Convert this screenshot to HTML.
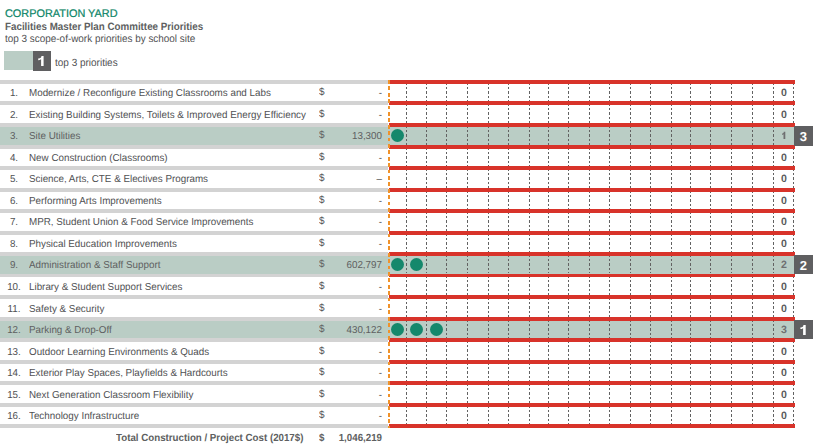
<!DOCTYPE html><html><head><meta charset="utf-8"><style>
html,body{margin:0;padding:0;background:#fff;width:815px;height:446px;overflow:hidden;position:relative}
body{font-family:"Liberation Sans",sans-serif;text-rendering:geometricPrecision}
.a{position:absolute}
.t{position:absolute;white-space:nowrap}
</style></head><body>
<div class="t" style="left:5.00px;top:6.94px;font-size:11px;line-height:14.3px;font-weight:400;color:#0b8567;transform:scaleX(0.99);transform-origin:0 0;-webkit-text-stroke:0.22px #0b8567">CORPORATION YARD</div>
<div class="t" style="left:4.60px;top:20.84px;font-size:10.6px;line-height:13.78px;font-weight:700;color:#5e5f61;transform:scaleX(0.925);transform-origin:0 0;">Facilities Master Plan Committee Priorities</div>
<div class="t" style="left:4.60px;top:32.64px;font-size:10.5px;line-height:13.65px;font-weight:400;color:#505153;transform:scaleX(0.945);transform-origin:0 0;">top 3 scope-of-work priorities by school site</div>
<div class="a" style="left:4.3px;top:51px;width:28.7px;height:18.8px;background:#bacdc5"></div>
<div class="a" style="left:33px;top:51px;width:18px;height:19.5px;background:#5f5f61"></div>
<div class="t" style="left:55.20px;top:56.64px;font-size:10.5px;line-height:13.65px;font-weight:400;color:#505153;transform:scaleX(0.95);transform-origin:0 0;">top 3 priorities</div>
<div class="a" style="left:0;top:126.6px;width:795px;height:18.40px;background:#bacdc5"></div>
<div class="a" style="left:0;top:256.0px;width:795px;height:17.50px;background:#bacdc5"></div>
<div class="a" style="left:0;top:320.6px;width:795px;height:17.40px;background:#bacdc5"></div>
<div class="a" style="left:405.90px;top:82.80px;width:1.2px;height:18.20px;background:repeating-linear-gradient(to bottom,#626262 0 2.2px,transparent 2.2px 4.2px)"></div>
<div class="a" style="left:426.10px;top:82.80px;width:1.2px;height:18.20px;background:repeating-linear-gradient(to bottom,#626262 0 2.2px,transparent 2.2px 4.2px)"></div>
<div class="a" style="left:446.20px;top:82.80px;width:1.2px;height:18.20px;background:repeating-linear-gradient(to bottom,#626262 0 2.2px,transparent 2.2px 4.2px)"></div>
<div class="a" style="left:467.10px;top:82.80px;width:1.2px;height:18.20px;background:repeating-linear-gradient(to bottom,#626262 0 2.2px,transparent 2.2px 4.2px)"></div>
<div class="a" style="left:487.90px;top:82.80px;width:1.2px;height:18.20px;background:repeating-linear-gradient(to bottom,#626262 0 2.2px,transparent 2.2px 4.2px)"></div>
<div class="a" style="left:508.05px;top:82.80px;width:1.2px;height:18.20px;background:repeating-linear-gradient(to bottom,#626262 0 2.2px,transparent 2.2px 4.2px)"></div>
<div class="a" style="left:528.50px;top:82.80px;width:1.2px;height:18.20px;background:repeating-linear-gradient(to bottom,#626262 0 2.2px,transparent 2.2px 4.2px)"></div>
<div class="a" style="left:547.90px;top:82.80px;width:1.2px;height:18.20px;background:repeating-linear-gradient(to bottom,#626262 0 2.2px,transparent 2.2px 4.2px)"></div>
<div class="a" style="left:568.20px;top:82.80px;width:1.2px;height:18.20px;background:repeating-linear-gradient(to bottom,#626262 0 2.2px,transparent 2.2px 4.2px)"></div>
<div class="a" style="left:588.50px;top:82.80px;width:1.2px;height:18.20px;background:repeating-linear-gradient(to bottom,#626262 0 2.2px,transparent 2.2px 4.2px)"></div>
<div class="a" style="left:609.30px;top:82.80px;width:1.2px;height:18.20px;background:repeating-linear-gradient(to bottom,#626262 0 2.2px,transparent 2.2px 4.2px)"></div>
<div class="a" style="left:630.00px;top:82.80px;width:1.2px;height:18.20px;background:repeating-linear-gradient(to bottom,#626262 0 2.2px,transparent 2.2px 4.2px)"></div>
<div class="a" style="left:650.25px;top:82.80px;width:1.2px;height:18.20px;background:repeating-linear-gradient(to bottom,#626262 0 2.2px,transparent 2.2px 4.2px)"></div>
<div class="a" style="left:670.70px;top:82.80px;width:1.2px;height:18.20px;background:repeating-linear-gradient(to bottom,#626262 0 2.2px,transparent 2.2px 4.2px)"></div>
<div class="a" style="left:689.50px;top:82.80px;width:1.2px;height:18.20px;background:repeating-linear-gradient(to bottom,#626262 0 2.2px,transparent 2.2px 4.2px)"></div>
<div class="a" style="left:709.90px;top:82.80px;width:1.2px;height:18.20px;background:repeating-linear-gradient(to bottom,#626262 0 2.2px,transparent 2.2px 4.2px)"></div>
<div class="a" style="left:730.80px;top:82.80px;width:1.2px;height:18.20px;background:repeating-linear-gradient(to bottom,#626262 0 2.2px,transparent 2.2px 4.2px)"></div>
<div class="a" style="left:751.90px;top:82.80px;width:1.2px;height:18.20px;background:repeating-linear-gradient(to bottom,#626262 0 2.2px,transparent 2.2px 4.2px)"></div>
<div class="a" style="left:772.50px;top:82.80px;width:1.2px;height:18.20px;background:repeating-linear-gradient(to bottom,#626262 0 2.2px,transparent 2.2px 4.2px)"></div>
<div class="a" style="left:793.20px;top:82.80px;width:1.2px;height:18.20px;background:repeating-linear-gradient(to bottom,#626262 0 2.2px,transparent 2.2px 4.2px)"></div>
<div class="a" style="left:405.90px;top:103.80px;width:1.2px;height:19.20px;background:repeating-linear-gradient(to bottom,#626262 0 2.2px,transparent 2.2px 4.2px)"></div>
<div class="a" style="left:426.10px;top:103.80px;width:1.2px;height:19.20px;background:repeating-linear-gradient(to bottom,#626262 0 2.2px,transparent 2.2px 4.2px)"></div>
<div class="a" style="left:446.20px;top:103.80px;width:1.2px;height:19.20px;background:repeating-linear-gradient(to bottom,#626262 0 2.2px,transparent 2.2px 4.2px)"></div>
<div class="a" style="left:467.10px;top:103.80px;width:1.2px;height:19.20px;background:repeating-linear-gradient(to bottom,#626262 0 2.2px,transparent 2.2px 4.2px)"></div>
<div class="a" style="left:487.90px;top:103.80px;width:1.2px;height:19.20px;background:repeating-linear-gradient(to bottom,#626262 0 2.2px,transparent 2.2px 4.2px)"></div>
<div class="a" style="left:508.05px;top:103.80px;width:1.2px;height:19.20px;background:repeating-linear-gradient(to bottom,#626262 0 2.2px,transparent 2.2px 4.2px)"></div>
<div class="a" style="left:528.50px;top:103.80px;width:1.2px;height:19.20px;background:repeating-linear-gradient(to bottom,#626262 0 2.2px,transparent 2.2px 4.2px)"></div>
<div class="a" style="left:547.90px;top:103.80px;width:1.2px;height:19.20px;background:repeating-linear-gradient(to bottom,#626262 0 2.2px,transparent 2.2px 4.2px)"></div>
<div class="a" style="left:568.20px;top:103.80px;width:1.2px;height:19.20px;background:repeating-linear-gradient(to bottom,#626262 0 2.2px,transparent 2.2px 4.2px)"></div>
<div class="a" style="left:588.50px;top:103.80px;width:1.2px;height:19.20px;background:repeating-linear-gradient(to bottom,#626262 0 2.2px,transparent 2.2px 4.2px)"></div>
<div class="a" style="left:609.30px;top:103.80px;width:1.2px;height:19.20px;background:repeating-linear-gradient(to bottom,#626262 0 2.2px,transparent 2.2px 4.2px)"></div>
<div class="a" style="left:630.00px;top:103.80px;width:1.2px;height:19.20px;background:repeating-linear-gradient(to bottom,#626262 0 2.2px,transparent 2.2px 4.2px)"></div>
<div class="a" style="left:650.25px;top:103.80px;width:1.2px;height:19.20px;background:repeating-linear-gradient(to bottom,#626262 0 2.2px,transparent 2.2px 4.2px)"></div>
<div class="a" style="left:670.70px;top:103.80px;width:1.2px;height:19.20px;background:repeating-linear-gradient(to bottom,#626262 0 2.2px,transparent 2.2px 4.2px)"></div>
<div class="a" style="left:689.50px;top:103.80px;width:1.2px;height:19.20px;background:repeating-linear-gradient(to bottom,#626262 0 2.2px,transparent 2.2px 4.2px)"></div>
<div class="a" style="left:709.90px;top:103.80px;width:1.2px;height:19.20px;background:repeating-linear-gradient(to bottom,#626262 0 2.2px,transparent 2.2px 4.2px)"></div>
<div class="a" style="left:730.80px;top:103.80px;width:1.2px;height:19.20px;background:repeating-linear-gradient(to bottom,#626262 0 2.2px,transparent 2.2px 4.2px)"></div>
<div class="a" style="left:751.90px;top:103.80px;width:1.2px;height:19.20px;background:repeating-linear-gradient(to bottom,#626262 0 2.2px,transparent 2.2px 4.2px)"></div>
<div class="a" style="left:772.50px;top:103.80px;width:1.2px;height:19.20px;background:repeating-linear-gradient(to bottom,#626262 0 2.2px,transparent 2.2px 4.2px)"></div>
<div class="a" style="left:793.20px;top:103.80px;width:1.2px;height:19.20px;background:repeating-linear-gradient(to bottom,#626262 0 2.2px,transparent 2.2px 4.2px)"></div>
<div class="a" style="left:405.90px;top:125.80px;width:1.2px;height:19.20px;background:repeating-linear-gradient(to bottom,#626262 0 2.2px,transparent 2.2px 4.2px)"></div>
<div class="a" style="left:426.10px;top:125.80px;width:1.2px;height:19.20px;background:repeating-linear-gradient(to bottom,#626262 0 2.2px,transparent 2.2px 4.2px)"></div>
<div class="a" style="left:446.20px;top:125.80px;width:1.2px;height:19.20px;background:repeating-linear-gradient(to bottom,#626262 0 2.2px,transparent 2.2px 4.2px)"></div>
<div class="a" style="left:467.10px;top:125.80px;width:1.2px;height:19.20px;background:repeating-linear-gradient(to bottom,#626262 0 2.2px,transparent 2.2px 4.2px)"></div>
<div class="a" style="left:487.90px;top:125.80px;width:1.2px;height:19.20px;background:repeating-linear-gradient(to bottom,#626262 0 2.2px,transparent 2.2px 4.2px)"></div>
<div class="a" style="left:508.05px;top:125.80px;width:1.2px;height:19.20px;background:repeating-linear-gradient(to bottom,#626262 0 2.2px,transparent 2.2px 4.2px)"></div>
<div class="a" style="left:528.50px;top:125.80px;width:1.2px;height:19.20px;background:repeating-linear-gradient(to bottom,#626262 0 2.2px,transparent 2.2px 4.2px)"></div>
<div class="a" style="left:547.90px;top:125.80px;width:1.2px;height:19.20px;background:repeating-linear-gradient(to bottom,#626262 0 2.2px,transparent 2.2px 4.2px)"></div>
<div class="a" style="left:568.20px;top:125.80px;width:1.2px;height:19.20px;background:repeating-linear-gradient(to bottom,#626262 0 2.2px,transparent 2.2px 4.2px)"></div>
<div class="a" style="left:588.50px;top:125.80px;width:1.2px;height:19.20px;background:repeating-linear-gradient(to bottom,#626262 0 2.2px,transparent 2.2px 4.2px)"></div>
<div class="a" style="left:609.30px;top:125.80px;width:1.2px;height:19.20px;background:repeating-linear-gradient(to bottom,#626262 0 2.2px,transparent 2.2px 4.2px)"></div>
<div class="a" style="left:630.00px;top:125.80px;width:1.2px;height:19.20px;background:repeating-linear-gradient(to bottom,#626262 0 2.2px,transparent 2.2px 4.2px)"></div>
<div class="a" style="left:650.25px;top:125.80px;width:1.2px;height:19.20px;background:repeating-linear-gradient(to bottom,#626262 0 2.2px,transparent 2.2px 4.2px)"></div>
<div class="a" style="left:670.70px;top:125.80px;width:1.2px;height:19.20px;background:repeating-linear-gradient(to bottom,#626262 0 2.2px,transparent 2.2px 4.2px)"></div>
<div class="a" style="left:689.50px;top:125.80px;width:1.2px;height:19.20px;background:repeating-linear-gradient(to bottom,#626262 0 2.2px,transparent 2.2px 4.2px)"></div>
<div class="a" style="left:709.90px;top:125.80px;width:1.2px;height:19.20px;background:repeating-linear-gradient(to bottom,#626262 0 2.2px,transparent 2.2px 4.2px)"></div>
<div class="a" style="left:730.80px;top:125.80px;width:1.2px;height:19.20px;background:repeating-linear-gradient(to bottom,#626262 0 2.2px,transparent 2.2px 4.2px)"></div>
<div class="a" style="left:751.90px;top:125.80px;width:1.2px;height:19.20px;background:repeating-linear-gradient(to bottom,#626262 0 2.2px,transparent 2.2px 4.2px)"></div>
<div class="a" style="left:772.50px;top:125.80px;width:1.2px;height:19.20px;background:repeating-linear-gradient(to bottom,#626262 0 2.2px,transparent 2.2px 4.2px)"></div>
<div class="a" style="left:405.90px;top:147.80px;width:1.2px;height:18.20px;background:repeating-linear-gradient(to bottom,#626262 0 2.2px,transparent 2.2px 4.2px)"></div>
<div class="a" style="left:426.10px;top:147.80px;width:1.2px;height:18.20px;background:repeating-linear-gradient(to bottom,#626262 0 2.2px,transparent 2.2px 4.2px)"></div>
<div class="a" style="left:446.20px;top:147.80px;width:1.2px;height:18.20px;background:repeating-linear-gradient(to bottom,#626262 0 2.2px,transparent 2.2px 4.2px)"></div>
<div class="a" style="left:467.10px;top:147.80px;width:1.2px;height:18.20px;background:repeating-linear-gradient(to bottom,#626262 0 2.2px,transparent 2.2px 4.2px)"></div>
<div class="a" style="left:487.90px;top:147.80px;width:1.2px;height:18.20px;background:repeating-linear-gradient(to bottom,#626262 0 2.2px,transparent 2.2px 4.2px)"></div>
<div class="a" style="left:508.05px;top:147.80px;width:1.2px;height:18.20px;background:repeating-linear-gradient(to bottom,#626262 0 2.2px,transparent 2.2px 4.2px)"></div>
<div class="a" style="left:528.50px;top:147.80px;width:1.2px;height:18.20px;background:repeating-linear-gradient(to bottom,#626262 0 2.2px,transparent 2.2px 4.2px)"></div>
<div class="a" style="left:547.90px;top:147.80px;width:1.2px;height:18.20px;background:repeating-linear-gradient(to bottom,#626262 0 2.2px,transparent 2.2px 4.2px)"></div>
<div class="a" style="left:568.20px;top:147.80px;width:1.2px;height:18.20px;background:repeating-linear-gradient(to bottom,#626262 0 2.2px,transparent 2.2px 4.2px)"></div>
<div class="a" style="left:588.50px;top:147.80px;width:1.2px;height:18.20px;background:repeating-linear-gradient(to bottom,#626262 0 2.2px,transparent 2.2px 4.2px)"></div>
<div class="a" style="left:609.30px;top:147.80px;width:1.2px;height:18.20px;background:repeating-linear-gradient(to bottom,#626262 0 2.2px,transparent 2.2px 4.2px)"></div>
<div class="a" style="left:630.00px;top:147.80px;width:1.2px;height:18.20px;background:repeating-linear-gradient(to bottom,#626262 0 2.2px,transparent 2.2px 4.2px)"></div>
<div class="a" style="left:650.25px;top:147.80px;width:1.2px;height:18.20px;background:repeating-linear-gradient(to bottom,#626262 0 2.2px,transparent 2.2px 4.2px)"></div>
<div class="a" style="left:670.70px;top:147.80px;width:1.2px;height:18.20px;background:repeating-linear-gradient(to bottom,#626262 0 2.2px,transparent 2.2px 4.2px)"></div>
<div class="a" style="left:689.50px;top:147.80px;width:1.2px;height:18.20px;background:repeating-linear-gradient(to bottom,#626262 0 2.2px,transparent 2.2px 4.2px)"></div>
<div class="a" style="left:709.90px;top:147.80px;width:1.2px;height:18.20px;background:repeating-linear-gradient(to bottom,#626262 0 2.2px,transparent 2.2px 4.2px)"></div>
<div class="a" style="left:730.80px;top:147.80px;width:1.2px;height:18.20px;background:repeating-linear-gradient(to bottom,#626262 0 2.2px,transparent 2.2px 4.2px)"></div>
<div class="a" style="left:751.90px;top:147.80px;width:1.2px;height:18.20px;background:repeating-linear-gradient(to bottom,#626262 0 2.2px,transparent 2.2px 4.2px)"></div>
<div class="a" style="left:772.50px;top:147.80px;width:1.2px;height:18.20px;background:repeating-linear-gradient(to bottom,#626262 0 2.2px,transparent 2.2px 4.2px)"></div>
<div class="a" style="left:793.20px;top:147.80px;width:1.2px;height:18.20px;background:repeating-linear-gradient(to bottom,#626262 0 2.2px,transparent 2.2px 4.2px)"></div>
<div class="a" style="left:405.90px;top:168.80px;width:1.2px;height:19.20px;background:repeating-linear-gradient(to bottom,#626262 0 2.2px,transparent 2.2px 4.2px)"></div>
<div class="a" style="left:426.10px;top:168.80px;width:1.2px;height:19.20px;background:repeating-linear-gradient(to bottom,#626262 0 2.2px,transparent 2.2px 4.2px)"></div>
<div class="a" style="left:446.20px;top:168.80px;width:1.2px;height:19.20px;background:repeating-linear-gradient(to bottom,#626262 0 2.2px,transparent 2.2px 4.2px)"></div>
<div class="a" style="left:467.10px;top:168.80px;width:1.2px;height:19.20px;background:repeating-linear-gradient(to bottom,#626262 0 2.2px,transparent 2.2px 4.2px)"></div>
<div class="a" style="left:487.90px;top:168.80px;width:1.2px;height:19.20px;background:repeating-linear-gradient(to bottom,#626262 0 2.2px,transparent 2.2px 4.2px)"></div>
<div class="a" style="left:508.05px;top:168.80px;width:1.2px;height:19.20px;background:repeating-linear-gradient(to bottom,#626262 0 2.2px,transparent 2.2px 4.2px)"></div>
<div class="a" style="left:528.50px;top:168.80px;width:1.2px;height:19.20px;background:repeating-linear-gradient(to bottom,#626262 0 2.2px,transparent 2.2px 4.2px)"></div>
<div class="a" style="left:547.90px;top:168.80px;width:1.2px;height:19.20px;background:repeating-linear-gradient(to bottom,#626262 0 2.2px,transparent 2.2px 4.2px)"></div>
<div class="a" style="left:568.20px;top:168.80px;width:1.2px;height:19.20px;background:repeating-linear-gradient(to bottom,#626262 0 2.2px,transparent 2.2px 4.2px)"></div>
<div class="a" style="left:588.50px;top:168.80px;width:1.2px;height:19.20px;background:repeating-linear-gradient(to bottom,#626262 0 2.2px,transparent 2.2px 4.2px)"></div>
<div class="a" style="left:609.30px;top:168.80px;width:1.2px;height:19.20px;background:repeating-linear-gradient(to bottom,#626262 0 2.2px,transparent 2.2px 4.2px)"></div>
<div class="a" style="left:630.00px;top:168.80px;width:1.2px;height:19.20px;background:repeating-linear-gradient(to bottom,#626262 0 2.2px,transparent 2.2px 4.2px)"></div>
<div class="a" style="left:650.25px;top:168.80px;width:1.2px;height:19.20px;background:repeating-linear-gradient(to bottom,#626262 0 2.2px,transparent 2.2px 4.2px)"></div>
<div class="a" style="left:670.70px;top:168.80px;width:1.2px;height:19.20px;background:repeating-linear-gradient(to bottom,#626262 0 2.2px,transparent 2.2px 4.2px)"></div>
<div class="a" style="left:689.50px;top:168.80px;width:1.2px;height:19.20px;background:repeating-linear-gradient(to bottom,#626262 0 2.2px,transparent 2.2px 4.2px)"></div>
<div class="a" style="left:709.90px;top:168.80px;width:1.2px;height:19.20px;background:repeating-linear-gradient(to bottom,#626262 0 2.2px,transparent 2.2px 4.2px)"></div>
<div class="a" style="left:730.80px;top:168.80px;width:1.2px;height:19.20px;background:repeating-linear-gradient(to bottom,#626262 0 2.2px,transparent 2.2px 4.2px)"></div>
<div class="a" style="left:751.90px;top:168.80px;width:1.2px;height:19.20px;background:repeating-linear-gradient(to bottom,#626262 0 2.2px,transparent 2.2px 4.2px)"></div>
<div class="a" style="left:772.50px;top:168.80px;width:1.2px;height:19.20px;background:repeating-linear-gradient(to bottom,#626262 0 2.2px,transparent 2.2px 4.2px)"></div>
<div class="a" style="left:793.20px;top:168.80px;width:1.2px;height:19.20px;background:repeating-linear-gradient(to bottom,#626262 0 2.2px,transparent 2.2px 4.2px)"></div>
<div class="a" style="left:405.90px;top:190.80px;width:1.2px;height:18.20px;background:repeating-linear-gradient(to bottom,#626262 0 2.2px,transparent 2.2px 4.2px)"></div>
<div class="a" style="left:426.10px;top:190.80px;width:1.2px;height:18.20px;background:repeating-linear-gradient(to bottom,#626262 0 2.2px,transparent 2.2px 4.2px)"></div>
<div class="a" style="left:446.20px;top:190.80px;width:1.2px;height:18.20px;background:repeating-linear-gradient(to bottom,#626262 0 2.2px,transparent 2.2px 4.2px)"></div>
<div class="a" style="left:467.10px;top:190.80px;width:1.2px;height:18.20px;background:repeating-linear-gradient(to bottom,#626262 0 2.2px,transparent 2.2px 4.2px)"></div>
<div class="a" style="left:487.90px;top:190.80px;width:1.2px;height:18.20px;background:repeating-linear-gradient(to bottom,#626262 0 2.2px,transparent 2.2px 4.2px)"></div>
<div class="a" style="left:508.05px;top:190.80px;width:1.2px;height:18.20px;background:repeating-linear-gradient(to bottom,#626262 0 2.2px,transparent 2.2px 4.2px)"></div>
<div class="a" style="left:528.50px;top:190.80px;width:1.2px;height:18.20px;background:repeating-linear-gradient(to bottom,#626262 0 2.2px,transparent 2.2px 4.2px)"></div>
<div class="a" style="left:547.90px;top:190.80px;width:1.2px;height:18.20px;background:repeating-linear-gradient(to bottom,#626262 0 2.2px,transparent 2.2px 4.2px)"></div>
<div class="a" style="left:568.20px;top:190.80px;width:1.2px;height:18.20px;background:repeating-linear-gradient(to bottom,#626262 0 2.2px,transparent 2.2px 4.2px)"></div>
<div class="a" style="left:588.50px;top:190.80px;width:1.2px;height:18.20px;background:repeating-linear-gradient(to bottom,#626262 0 2.2px,transparent 2.2px 4.2px)"></div>
<div class="a" style="left:609.30px;top:190.80px;width:1.2px;height:18.20px;background:repeating-linear-gradient(to bottom,#626262 0 2.2px,transparent 2.2px 4.2px)"></div>
<div class="a" style="left:630.00px;top:190.80px;width:1.2px;height:18.20px;background:repeating-linear-gradient(to bottom,#626262 0 2.2px,transparent 2.2px 4.2px)"></div>
<div class="a" style="left:650.25px;top:190.80px;width:1.2px;height:18.20px;background:repeating-linear-gradient(to bottom,#626262 0 2.2px,transparent 2.2px 4.2px)"></div>
<div class="a" style="left:670.70px;top:190.80px;width:1.2px;height:18.20px;background:repeating-linear-gradient(to bottom,#626262 0 2.2px,transparent 2.2px 4.2px)"></div>
<div class="a" style="left:689.50px;top:190.80px;width:1.2px;height:18.20px;background:repeating-linear-gradient(to bottom,#626262 0 2.2px,transparent 2.2px 4.2px)"></div>
<div class="a" style="left:709.90px;top:190.80px;width:1.2px;height:18.20px;background:repeating-linear-gradient(to bottom,#626262 0 2.2px,transparent 2.2px 4.2px)"></div>
<div class="a" style="left:730.80px;top:190.80px;width:1.2px;height:18.20px;background:repeating-linear-gradient(to bottom,#626262 0 2.2px,transparent 2.2px 4.2px)"></div>
<div class="a" style="left:751.90px;top:190.80px;width:1.2px;height:18.20px;background:repeating-linear-gradient(to bottom,#626262 0 2.2px,transparent 2.2px 4.2px)"></div>
<div class="a" style="left:772.50px;top:190.80px;width:1.2px;height:18.20px;background:repeating-linear-gradient(to bottom,#626262 0 2.2px,transparent 2.2px 4.2px)"></div>
<div class="a" style="left:793.20px;top:190.80px;width:1.2px;height:18.20px;background:repeating-linear-gradient(to bottom,#626262 0 2.2px,transparent 2.2px 4.2px)"></div>
<div class="a" style="left:405.90px;top:211.80px;width:1.2px;height:19.20px;background:repeating-linear-gradient(to bottom,#626262 0 2.2px,transparent 2.2px 4.2px)"></div>
<div class="a" style="left:426.10px;top:211.80px;width:1.2px;height:19.20px;background:repeating-linear-gradient(to bottom,#626262 0 2.2px,transparent 2.2px 4.2px)"></div>
<div class="a" style="left:446.20px;top:211.80px;width:1.2px;height:19.20px;background:repeating-linear-gradient(to bottom,#626262 0 2.2px,transparent 2.2px 4.2px)"></div>
<div class="a" style="left:467.10px;top:211.80px;width:1.2px;height:19.20px;background:repeating-linear-gradient(to bottom,#626262 0 2.2px,transparent 2.2px 4.2px)"></div>
<div class="a" style="left:487.90px;top:211.80px;width:1.2px;height:19.20px;background:repeating-linear-gradient(to bottom,#626262 0 2.2px,transparent 2.2px 4.2px)"></div>
<div class="a" style="left:508.05px;top:211.80px;width:1.2px;height:19.20px;background:repeating-linear-gradient(to bottom,#626262 0 2.2px,transparent 2.2px 4.2px)"></div>
<div class="a" style="left:528.50px;top:211.80px;width:1.2px;height:19.20px;background:repeating-linear-gradient(to bottom,#626262 0 2.2px,transparent 2.2px 4.2px)"></div>
<div class="a" style="left:547.90px;top:211.80px;width:1.2px;height:19.20px;background:repeating-linear-gradient(to bottom,#626262 0 2.2px,transparent 2.2px 4.2px)"></div>
<div class="a" style="left:568.20px;top:211.80px;width:1.2px;height:19.20px;background:repeating-linear-gradient(to bottom,#626262 0 2.2px,transparent 2.2px 4.2px)"></div>
<div class="a" style="left:588.50px;top:211.80px;width:1.2px;height:19.20px;background:repeating-linear-gradient(to bottom,#626262 0 2.2px,transparent 2.2px 4.2px)"></div>
<div class="a" style="left:609.30px;top:211.80px;width:1.2px;height:19.20px;background:repeating-linear-gradient(to bottom,#626262 0 2.2px,transparent 2.2px 4.2px)"></div>
<div class="a" style="left:630.00px;top:211.80px;width:1.2px;height:19.20px;background:repeating-linear-gradient(to bottom,#626262 0 2.2px,transparent 2.2px 4.2px)"></div>
<div class="a" style="left:650.25px;top:211.80px;width:1.2px;height:19.20px;background:repeating-linear-gradient(to bottom,#626262 0 2.2px,transparent 2.2px 4.2px)"></div>
<div class="a" style="left:670.70px;top:211.80px;width:1.2px;height:19.20px;background:repeating-linear-gradient(to bottom,#626262 0 2.2px,transparent 2.2px 4.2px)"></div>
<div class="a" style="left:689.50px;top:211.80px;width:1.2px;height:19.20px;background:repeating-linear-gradient(to bottom,#626262 0 2.2px,transparent 2.2px 4.2px)"></div>
<div class="a" style="left:709.90px;top:211.80px;width:1.2px;height:19.20px;background:repeating-linear-gradient(to bottom,#626262 0 2.2px,transparent 2.2px 4.2px)"></div>
<div class="a" style="left:730.80px;top:211.80px;width:1.2px;height:19.20px;background:repeating-linear-gradient(to bottom,#626262 0 2.2px,transparent 2.2px 4.2px)"></div>
<div class="a" style="left:751.90px;top:211.80px;width:1.2px;height:19.20px;background:repeating-linear-gradient(to bottom,#626262 0 2.2px,transparent 2.2px 4.2px)"></div>
<div class="a" style="left:772.50px;top:211.80px;width:1.2px;height:19.20px;background:repeating-linear-gradient(to bottom,#626262 0 2.2px,transparent 2.2px 4.2px)"></div>
<div class="a" style="left:793.20px;top:211.80px;width:1.2px;height:19.20px;background:repeating-linear-gradient(to bottom,#626262 0 2.2px,transparent 2.2px 4.2px)"></div>
<div class="a" style="left:405.90px;top:233.80px;width:1.2px;height:18.60px;background:repeating-linear-gradient(to bottom,#626262 0 2.2px,transparent 2.2px 4.2px)"></div>
<div class="a" style="left:426.10px;top:233.80px;width:1.2px;height:18.60px;background:repeating-linear-gradient(to bottom,#626262 0 2.2px,transparent 2.2px 4.2px)"></div>
<div class="a" style="left:446.20px;top:233.80px;width:1.2px;height:18.60px;background:repeating-linear-gradient(to bottom,#626262 0 2.2px,transparent 2.2px 4.2px)"></div>
<div class="a" style="left:467.10px;top:233.80px;width:1.2px;height:18.60px;background:repeating-linear-gradient(to bottom,#626262 0 2.2px,transparent 2.2px 4.2px)"></div>
<div class="a" style="left:487.90px;top:233.80px;width:1.2px;height:18.60px;background:repeating-linear-gradient(to bottom,#626262 0 2.2px,transparent 2.2px 4.2px)"></div>
<div class="a" style="left:508.05px;top:233.80px;width:1.2px;height:18.60px;background:repeating-linear-gradient(to bottom,#626262 0 2.2px,transparent 2.2px 4.2px)"></div>
<div class="a" style="left:528.50px;top:233.80px;width:1.2px;height:18.60px;background:repeating-linear-gradient(to bottom,#626262 0 2.2px,transparent 2.2px 4.2px)"></div>
<div class="a" style="left:547.90px;top:233.80px;width:1.2px;height:18.60px;background:repeating-linear-gradient(to bottom,#626262 0 2.2px,transparent 2.2px 4.2px)"></div>
<div class="a" style="left:568.20px;top:233.80px;width:1.2px;height:18.60px;background:repeating-linear-gradient(to bottom,#626262 0 2.2px,transparent 2.2px 4.2px)"></div>
<div class="a" style="left:588.50px;top:233.80px;width:1.2px;height:18.60px;background:repeating-linear-gradient(to bottom,#626262 0 2.2px,transparent 2.2px 4.2px)"></div>
<div class="a" style="left:609.30px;top:233.80px;width:1.2px;height:18.60px;background:repeating-linear-gradient(to bottom,#626262 0 2.2px,transparent 2.2px 4.2px)"></div>
<div class="a" style="left:630.00px;top:233.80px;width:1.2px;height:18.60px;background:repeating-linear-gradient(to bottom,#626262 0 2.2px,transparent 2.2px 4.2px)"></div>
<div class="a" style="left:650.25px;top:233.80px;width:1.2px;height:18.60px;background:repeating-linear-gradient(to bottom,#626262 0 2.2px,transparent 2.2px 4.2px)"></div>
<div class="a" style="left:670.70px;top:233.80px;width:1.2px;height:18.60px;background:repeating-linear-gradient(to bottom,#626262 0 2.2px,transparent 2.2px 4.2px)"></div>
<div class="a" style="left:689.50px;top:233.80px;width:1.2px;height:18.60px;background:repeating-linear-gradient(to bottom,#626262 0 2.2px,transparent 2.2px 4.2px)"></div>
<div class="a" style="left:709.90px;top:233.80px;width:1.2px;height:18.60px;background:repeating-linear-gradient(to bottom,#626262 0 2.2px,transparent 2.2px 4.2px)"></div>
<div class="a" style="left:730.80px;top:233.80px;width:1.2px;height:18.60px;background:repeating-linear-gradient(to bottom,#626262 0 2.2px,transparent 2.2px 4.2px)"></div>
<div class="a" style="left:751.90px;top:233.80px;width:1.2px;height:18.60px;background:repeating-linear-gradient(to bottom,#626262 0 2.2px,transparent 2.2px 4.2px)"></div>
<div class="a" style="left:772.50px;top:233.80px;width:1.2px;height:18.60px;background:repeating-linear-gradient(to bottom,#626262 0 2.2px,transparent 2.2px 4.2px)"></div>
<div class="a" style="left:793.20px;top:233.80px;width:1.2px;height:18.60px;background:repeating-linear-gradient(to bottom,#626262 0 2.2px,transparent 2.2px 4.2px)"></div>
<div class="a" style="left:405.90px;top:255.20px;width:1.2px;height:18.30px;background:repeating-linear-gradient(to bottom,#626262 0 2.2px,transparent 2.2px 4.2px)"></div>
<div class="a" style="left:426.10px;top:255.20px;width:1.2px;height:18.30px;background:repeating-linear-gradient(to bottom,#626262 0 2.2px,transparent 2.2px 4.2px)"></div>
<div class="a" style="left:446.20px;top:255.20px;width:1.2px;height:18.30px;background:repeating-linear-gradient(to bottom,#626262 0 2.2px,transparent 2.2px 4.2px)"></div>
<div class="a" style="left:467.10px;top:255.20px;width:1.2px;height:18.30px;background:repeating-linear-gradient(to bottom,#626262 0 2.2px,transparent 2.2px 4.2px)"></div>
<div class="a" style="left:487.90px;top:255.20px;width:1.2px;height:18.30px;background:repeating-linear-gradient(to bottom,#626262 0 2.2px,transparent 2.2px 4.2px)"></div>
<div class="a" style="left:508.05px;top:255.20px;width:1.2px;height:18.30px;background:repeating-linear-gradient(to bottom,#626262 0 2.2px,transparent 2.2px 4.2px)"></div>
<div class="a" style="left:528.50px;top:255.20px;width:1.2px;height:18.30px;background:repeating-linear-gradient(to bottom,#626262 0 2.2px,transparent 2.2px 4.2px)"></div>
<div class="a" style="left:547.90px;top:255.20px;width:1.2px;height:18.30px;background:repeating-linear-gradient(to bottom,#626262 0 2.2px,transparent 2.2px 4.2px)"></div>
<div class="a" style="left:568.20px;top:255.20px;width:1.2px;height:18.30px;background:repeating-linear-gradient(to bottom,#626262 0 2.2px,transparent 2.2px 4.2px)"></div>
<div class="a" style="left:588.50px;top:255.20px;width:1.2px;height:18.30px;background:repeating-linear-gradient(to bottom,#626262 0 2.2px,transparent 2.2px 4.2px)"></div>
<div class="a" style="left:609.30px;top:255.20px;width:1.2px;height:18.30px;background:repeating-linear-gradient(to bottom,#626262 0 2.2px,transparent 2.2px 4.2px)"></div>
<div class="a" style="left:630.00px;top:255.20px;width:1.2px;height:18.30px;background:repeating-linear-gradient(to bottom,#626262 0 2.2px,transparent 2.2px 4.2px)"></div>
<div class="a" style="left:650.25px;top:255.20px;width:1.2px;height:18.30px;background:repeating-linear-gradient(to bottom,#626262 0 2.2px,transparent 2.2px 4.2px)"></div>
<div class="a" style="left:670.70px;top:255.20px;width:1.2px;height:18.30px;background:repeating-linear-gradient(to bottom,#626262 0 2.2px,transparent 2.2px 4.2px)"></div>
<div class="a" style="left:689.50px;top:255.20px;width:1.2px;height:18.30px;background:repeating-linear-gradient(to bottom,#626262 0 2.2px,transparent 2.2px 4.2px)"></div>
<div class="a" style="left:709.90px;top:255.20px;width:1.2px;height:18.30px;background:repeating-linear-gradient(to bottom,#626262 0 2.2px,transparent 2.2px 4.2px)"></div>
<div class="a" style="left:730.80px;top:255.20px;width:1.2px;height:18.30px;background:repeating-linear-gradient(to bottom,#626262 0 2.2px,transparent 2.2px 4.2px)"></div>
<div class="a" style="left:751.90px;top:255.20px;width:1.2px;height:18.30px;background:repeating-linear-gradient(to bottom,#626262 0 2.2px,transparent 2.2px 4.2px)"></div>
<div class="a" style="left:772.50px;top:255.20px;width:1.2px;height:18.30px;background:repeating-linear-gradient(to bottom,#626262 0 2.2px,transparent 2.2px 4.2px)"></div>
<div class="a" style="left:405.90px;top:276.30px;width:1.2px;height:18.70px;background:repeating-linear-gradient(to bottom,#626262 0 2.2px,transparent 2.2px 4.2px)"></div>
<div class="a" style="left:426.10px;top:276.30px;width:1.2px;height:18.70px;background:repeating-linear-gradient(to bottom,#626262 0 2.2px,transparent 2.2px 4.2px)"></div>
<div class="a" style="left:446.20px;top:276.30px;width:1.2px;height:18.70px;background:repeating-linear-gradient(to bottom,#626262 0 2.2px,transparent 2.2px 4.2px)"></div>
<div class="a" style="left:467.10px;top:276.30px;width:1.2px;height:18.70px;background:repeating-linear-gradient(to bottom,#626262 0 2.2px,transparent 2.2px 4.2px)"></div>
<div class="a" style="left:487.90px;top:276.30px;width:1.2px;height:18.70px;background:repeating-linear-gradient(to bottom,#626262 0 2.2px,transparent 2.2px 4.2px)"></div>
<div class="a" style="left:508.05px;top:276.30px;width:1.2px;height:18.70px;background:repeating-linear-gradient(to bottom,#626262 0 2.2px,transparent 2.2px 4.2px)"></div>
<div class="a" style="left:528.50px;top:276.30px;width:1.2px;height:18.70px;background:repeating-linear-gradient(to bottom,#626262 0 2.2px,transparent 2.2px 4.2px)"></div>
<div class="a" style="left:547.90px;top:276.30px;width:1.2px;height:18.70px;background:repeating-linear-gradient(to bottom,#626262 0 2.2px,transparent 2.2px 4.2px)"></div>
<div class="a" style="left:568.20px;top:276.30px;width:1.2px;height:18.70px;background:repeating-linear-gradient(to bottom,#626262 0 2.2px,transparent 2.2px 4.2px)"></div>
<div class="a" style="left:588.50px;top:276.30px;width:1.2px;height:18.70px;background:repeating-linear-gradient(to bottom,#626262 0 2.2px,transparent 2.2px 4.2px)"></div>
<div class="a" style="left:609.30px;top:276.30px;width:1.2px;height:18.70px;background:repeating-linear-gradient(to bottom,#626262 0 2.2px,transparent 2.2px 4.2px)"></div>
<div class="a" style="left:630.00px;top:276.30px;width:1.2px;height:18.70px;background:repeating-linear-gradient(to bottom,#626262 0 2.2px,transparent 2.2px 4.2px)"></div>
<div class="a" style="left:650.25px;top:276.30px;width:1.2px;height:18.70px;background:repeating-linear-gradient(to bottom,#626262 0 2.2px,transparent 2.2px 4.2px)"></div>
<div class="a" style="left:670.70px;top:276.30px;width:1.2px;height:18.70px;background:repeating-linear-gradient(to bottom,#626262 0 2.2px,transparent 2.2px 4.2px)"></div>
<div class="a" style="left:689.50px;top:276.30px;width:1.2px;height:18.70px;background:repeating-linear-gradient(to bottom,#626262 0 2.2px,transparent 2.2px 4.2px)"></div>
<div class="a" style="left:709.90px;top:276.30px;width:1.2px;height:18.70px;background:repeating-linear-gradient(to bottom,#626262 0 2.2px,transparent 2.2px 4.2px)"></div>
<div class="a" style="left:730.80px;top:276.30px;width:1.2px;height:18.70px;background:repeating-linear-gradient(to bottom,#626262 0 2.2px,transparent 2.2px 4.2px)"></div>
<div class="a" style="left:751.90px;top:276.30px;width:1.2px;height:18.70px;background:repeating-linear-gradient(to bottom,#626262 0 2.2px,transparent 2.2px 4.2px)"></div>
<div class="a" style="left:772.50px;top:276.30px;width:1.2px;height:18.70px;background:repeating-linear-gradient(to bottom,#626262 0 2.2px,transparent 2.2px 4.2px)"></div>
<div class="a" style="left:793.20px;top:276.30px;width:1.2px;height:18.70px;background:repeating-linear-gradient(to bottom,#626262 0 2.2px,transparent 2.2px 4.2px)"></div>
<div class="a" style="left:405.90px;top:297.80px;width:1.2px;height:19.20px;background:repeating-linear-gradient(to bottom,#626262 0 2.2px,transparent 2.2px 4.2px)"></div>
<div class="a" style="left:426.10px;top:297.80px;width:1.2px;height:19.20px;background:repeating-linear-gradient(to bottom,#626262 0 2.2px,transparent 2.2px 4.2px)"></div>
<div class="a" style="left:446.20px;top:297.80px;width:1.2px;height:19.20px;background:repeating-linear-gradient(to bottom,#626262 0 2.2px,transparent 2.2px 4.2px)"></div>
<div class="a" style="left:467.10px;top:297.80px;width:1.2px;height:19.20px;background:repeating-linear-gradient(to bottom,#626262 0 2.2px,transparent 2.2px 4.2px)"></div>
<div class="a" style="left:487.90px;top:297.80px;width:1.2px;height:19.20px;background:repeating-linear-gradient(to bottom,#626262 0 2.2px,transparent 2.2px 4.2px)"></div>
<div class="a" style="left:508.05px;top:297.80px;width:1.2px;height:19.20px;background:repeating-linear-gradient(to bottom,#626262 0 2.2px,transparent 2.2px 4.2px)"></div>
<div class="a" style="left:528.50px;top:297.80px;width:1.2px;height:19.20px;background:repeating-linear-gradient(to bottom,#626262 0 2.2px,transparent 2.2px 4.2px)"></div>
<div class="a" style="left:547.90px;top:297.80px;width:1.2px;height:19.20px;background:repeating-linear-gradient(to bottom,#626262 0 2.2px,transparent 2.2px 4.2px)"></div>
<div class="a" style="left:568.20px;top:297.80px;width:1.2px;height:19.20px;background:repeating-linear-gradient(to bottom,#626262 0 2.2px,transparent 2.2px 4.2px)"></div>
<div class="a" style="left:588.50px;top:297.80px;width:1.2px;height:19.20px;background:repeating-linear-gradient(to bottom,#626262 0 2.2px,transparent 2.2px 4.2px)"></div>
<div class="a" style="left:609.30px;top:297.80px;width:1.2px;height:19.20px;background:repeating-linear-gradient(to bottom,#626262 0 2.2px,transparent 2.2px 4.2px)"></div>
<div class="a" style="left:630.00px;top:297.80px;width:1.2px;height:19.20px;background:repeating-linear-gradient(to bottom,#626262 0 2.2px,transparent 2.2px 4.2px)"></div>
<div class="a" style="left:650.25px;top:297.80px;width:1.2px;height:19.20px;background:repeating-linear-gradient(to bottom,#626262 0 2.2px,transparent 2.2px 4.2px)"></div>
<div class="a" style="left:670.70px;top:297.80px;width:1.2px;height:19.20px;background:repeating-linear-gradient(to bottom,#626262 0 2.2px,transparent 2.2px 4.2px)"></div>
<div class="a" style="left:689.50px;top:297.80px;width:1.2px;height:19.20px;background:repeating-linear-gradient(to bottom,#626262 0 2.2px,transparent 2.2px 4.2px)"></div>
<div class="a" style="left:709.90px;top:297.80px;width:1.2px;height:19.20px;background:repeating-linear-gradient(to bottom,#626262 0 2.2px,transparent 2.2px 4.2px)"></div>
<div class="a" style="left:730.80px;top:297.80px;width:1.2px;height:19.20px;background:repeating-linear-gradient(to bottom,#626262 0 2.2px,transparent 2.2px 4.2px)"></div>
<div class="a" style="left:751.90px;top:297.80px;width:1.2px;height:19.20px;background:repeating-linear-gradient(to bottom,#626262 0 2.2px,transparent 2.2px 4.2px)"></div>
<div class="a" style="left:772.50px;top:297.80px;width:1.2px;height:19.20px;background:repeating-linear-gradient(to bottom,#626262 0 2.2px,transparent 2.2px 4.2px)"></div>
<div class="a" style="left:793.20px;top:297.80px;width:1.2px;height:19.20px;background:repeating-linear-gradient(to bottom,#626262 0 2.2px,transparent 2.2px 4.2px)"></div>
<div class="a" style="left:405.90px;top:319.80px;width:1.2px;height:18.20px;background:repeating-linear-gradient(to bottom,#626262 0 2.2px,transparent 2.2px 4.2px)"></div>
<div class="a" style="left:426.10px;top:319.80px;width:1.2px;height:18.20px;background:repeating-linear-gradient(to bottom,#626262 0 2.2px,transparent 2.2px 4.2px)"></div>
<div class="a" style="left:446.20px;top:319.80px;width:1.2px;height:18.20px;background:repeating-linear-gradient(to bottom,#626262 0 2.2px,transparent 2.2px 4.2px)"></div>
<div class="a" style="left:467.10px;top:319.80px;width:1.2px;height:18.20px;background:repeating-linear-gradient(to bottom,#626262 0 2.2px,transparent 2.2px 4.2px)"></div>
<div class="a" style="left:487.90px;top:319.80px;width:1.2px;height:18.20px;background:repeating-linear-gradient(to bottom,#626262 0 2.2px,transparent 2.2px 4.2px)"></div>
<div class="a" style="left:508.05px;top:319.80px;width:1.2px;height:18.20px;background:repeating-linear-gradient(to bottom,#626262 0 2.2px,transparent 2.2px 4.2px)"></div>
<div class="a" style="left:528.50px;top:319.80px;width:1.2px;height:18.20px;background:repeating-linear-gradient(to bottom,#626262 0 2.2px,transparent 2.2px 4.2px)"></div>
<div class="a" style="left:547.90px;top:319.80px;width:1.2px;height:18.20px;background:repeating-linear-gradient(to bottom,#626262 0 2.2px,transparent 2.2px 4.2px)"></div>
<div class="a" style="left:568.20px;top:319.80px;width:1.2px;height:18.20px;background:repeating-linear-gradient(to bottom,#626262 0 2.2px,transparent 2.2px 4.2px)"></div>
<div class="a" style="left:588.50px;top:319.80px;width:1.2px;height:18.20px;background:repeating-linear-gradient(to bottom,#626262 0 2.2px,transparent 2.2px 4.2px)"></div>
<div class="a" style="left:609.30px;top:319.80px;width:1.2px;height:18.20px;background:repeating-linear-gradient(to bottom,#626262 0 2.2px,transparent 2.2px 4.2px)"></div>
<div class="a" style="left:630.00px;top:319.80px;width:1.2px;height:18.20px;background:repeating-linear-gradient(to bottom,#626262 0 2.2px,transparent 2.2px 4.2px)"></div>
<div class="a" style="left:650.25px;top:319.80px;width:1.2px;height:18.20px;background:repeating-linear-gradient(to bottom,#626262 0 2.2px,transparent 2.2px 4.2px)"></div>
<div class="a" style="left:670.70px;top:319.80px;width:1.2px;height:18.20px;background:repeating-linear-gradient(to bottom,#626262 0 2.2px,transparent 2.2px 4.2px)"></div>
<div class="a" style="left:689.50px;top:319.80px;width:1.2px;height:18.20px;background:repeating-linear-gradient(to bottom,#626262 0 2.2px,transparent 2.2px 4.2px)"></div>
<div class="a" style="left:709.90px;top:319.80px;width:1.2px;height:18.20px;background:repeating-linear-gradient(to bottom,#626262 0 2.2px,transparent 2.2px 4.2px)"></div>
<div class="a" style="left:730.80px;top:319.80px;width:1.2px;height:18.20px;background:repeating-linear-gradient(to bottom,#626262 0 2.2px,transparent 2.2px 4.2px)"></div>
<div class="a" style="left:751.90px;top:319.80px;width:1.2px;height:18.20px;background:repeating-linear-gradient(to bottom,#626262 0 2.2px,transparent 2.2px 4.2px)"></div>
<div class="a" style="left:772.50px;top:319.80px;width:1.2px;height:18.20px;background:repeating-linear-gradient(to bottom,#626262 0 2.2px,transparent 2.2px 4.2px)"></div>
<div class="a" style="left:405.90px;top:340.80px;width:1.2px;height:19.20px;background:repeating-linear-gradient(to bottom,#626262 0 2.2px,transparent 2.2px 4.2px)"></div>
<div class="a" style="left:426.10px;top:340.80px;width:1.2px;height:19.20px;background:repeating-linear-gradient(to bottom,#626262 0 2.2px,transparent 2.2px 4.2px)"></div>
<div class="a" style="left:446.20px;top:340.80px;width:1.2px;height:19.20px;background:repeating-linear-gradient(to bottom,#626262 0 2.2px,transparent 2.2px 4.2px)"></div>
<div class="a" style="left:467.10px;top:340.80px;width:1.2px;height:19.20px;background:repeating-linear-gradient(to bottom,#626262 0 2.2px,transparent 2.2px 4.2px)"></div>
<div class="a" style="left:487.90px;top:340.80px;width:1.2px;height:19.20px;background:repeating-linear-gradient(to bottom,#626262 0 2.2px,transparent 2.2px 4.2px)"></div>
<div class="a" style="left:508.05px;top:340.80px;width:1.2px;height:19.20px;background:repeating-linear-gradient(to bottom,#626262 0 2.2px,transparent 2.2px 4.2px)"></div>
<div class="a" style="left:528.50px;top:340.80px;width:1.2px;height:19.20px;background:repeating-linear-gradient(to bottom,#626262 0 2.2px,transparent 2.2px 4.2px)"></div>
<div class="a" style="left:547.90px;top:340.80px;width:1.2px;height:19.20px;background:repeating-linear-gradient(to bottom,#626262 0 2.2px,transparent 2.2px 4.2px)"></div>
<div class="a" style="left:568.20px;top:340.80px;width:1.2px;height:19.20px;background:repeating-linear-gradient(to bottom,#626262 0 2.2px,transparent 2.2px 4.2px)"></div>
<div class="a" style="left:588.50px;top:340.80px;width:1.2px;height:19.20px;background:repeating-linear-gradient(to bottom,#626262 0 2.2px,transparent 2.2px 4.2px)"></div>
<div class="a" style="left:609.30px;top:340.80px;width:1.2px;height:19.20px;background:repeating-linear-gradient(to bottom,#626262 0 2.2px,transparent 2.2px 4.2px)"></div>
<div class="a" style="left:630.00px;top:340.80px;width:1.2px;height:19.20px;background:repeating-linear-gradient(to bottom,#626262 0 2.2px,transparent 2.2px 4.2px)"></div>
<div class="a" style="left:650.25px;top:340.80px;width:1.2px;height:19.20px;background:repeating-linear-gradient(to bottom,#626262 0 2.2px,transparent 2.2px 4.2px)"></div>
<div class="a" style="left:670.70px;top:340.80px;width:1.2px;height:19.20px;background:repeating-linear-gradient(to bottom,#626262 0 2.2px,transparent 2.2px 4.2px)"></div>
<div class="a" style="left:689.50px;top:340.80px;width:1.2px;height:19.20px;background:repeating-linear-gradient(to bottom,#626262 0 2.2px,transparent 2.2px 4.2px)"></div>
<div class="a" style="left:709.90px;top:340.80px;width:1.2px;height:19.20px;background:repeating-linear-gradient(to bottom,#626262 0 2.2px,transparent 2.2px 4.2px)"></div>
<div class="a" style="left:730.80px;top:340.80px;width:1.2px;height:19.20px;background:repeating-linear-gradient(to bottom,#626262 0 2.2px,transparent 2.2px 4.2px)"></div>
<div class="a" style="left:751.90px;top:340.80px;width:1.2px;height:19.20px;background:repeating-linear-gradient(to bottom,#626262 0 2.2px,transparent 2.2px 4.2px)"></div>
<div class="a" style="left:772.50px;top:340.80px;width:1.2px;height:19.20px;background:repeating-linear-gradient(to bottom,#626262 0 2.2px,transparent 2.2px 4.2px)"></div>
<div class="a" style="left:793.20px;top:340.80px;width:1.2px;height:19.20px;background:repeating-linear-gradient(to bottom,#626262 0 2.2px,transparent 2.2px 4.2px)"></div>
<div class="a" style="left:405.90px;top:362.80px;width:1.2px;height:18.20px;background:repeating-linear-gradient(to bottom,#626262 0 2.2px,transparent 2.2px 4.2px)"></div>
<div class="a" style="left:426.10px;top:362.80px;width:1.2px;height:18.20px;background:repeating-linear-gradient(to bottom,#626262 0 2.2px,transparent 2.2px 4.2px)"></div>
<div class="a" style="left:446.20px;top:362.80px;width:1.2px;height:18.20px;background:repeating-linear-gradient(to bottom,#626262 0 2.2px,transparent 2.2px 4.2px)"></div>
<div class="a" style="left:467.10px;top:362.80px;width:1.2px;height:18.20px;background:repeating-linear-gradient(to bottom,#626262 0 2.2px,transparent 2.2px 4.2px)"></div>
<div class="a" style="left:487.90px;top:362.80px;width:1.2px;height:18.20px;background:repeating-linear-gradient(to bottom,#626262 0 2.2px,transparent 2.2px 4.2px)"></div>
<div class="a" style="left:508.05px;top:362.80px;width:1.2px;height:18.20px;background:repeating-linear-gradient(to bottom,#626262 0 2.2px,transparent 2.2px 4.2px)"></div>
<div class="a" style="left:528.50px;top:362.80px;width:1.2px;height:18.20px;background:repeating-linear-gradient(to bottom,#626262 0 2.2px,transparent 2.2px 4.2px)"></div>
<div class="a" style="left:547.90px;top:362.80px;width:1.2px;height:18.20px;background:repeating-linear-gradient(to bottom,#626262 0 2.2px,transparent 2.2px 4.2px)"></div>
<div class="a" style="left:568.20px;top:362.80px;width:1.2px;height:18.20px;background:repeating-linear-gradient(to bottom,#626262 0 2.2px,transparent 2.2px 4.2px)"></div>
<div class="a" style="left:588.50px;top:362.80px;width:1.2px;height:18.20px;background:repeating-linear-gradient(to bottom,#626262 0 2.2px,transparent 2.2px 4.2px)"></div>
<div class="a" style="left:609.30px;top:362.80px;width:1.2px;height:18.20px;background:repeating-linear-gradient(to bottom,#626262 0 2.2px,transparent 2.2px 4.2px)"></div>
<div class="a" style="left:630.00px;top:362.80px;width:1.2px;height:18.20px;background:repeating-linear-gradient(to bottom,#626262 0 2.2px,transparent 2.2px 4.2px)"></div>
<div class="a" style="left:650.25px;top:362.80px;width:1.2px;height:18.20px;background:repeating-linear-gradient(to bottom,#626262 0 2.2px,transparent 2.2px 4.2px)"></div>
<div class="a" style="left:670.70px;top:362.80px;width:1.2px;height:18.20px;background:repeating-linear-gradient(to bottom,#626262 0 2.2px,transparent 2.2px 4.2px)"></div>
<div class="a" style="left:689.50px;top:362.80px;width:1.2px;height:18.20px;background:repeating-linear-gradient(to bottom,#626262 0 2.2px,transparent 2.2px 4.2px)"></div>
<div class="a" style="left:709.90px;top:362.80px;width:1.2px;height:18.20px;background:repeating-linear-gradient(to bottom,#626262 0 2.2px,transparent 2.2px 4.2px)"></div>
<div class="a" style="left:730.80px;top:362.80px;width:1.2px;height:18.20px;background:repeating-linear-gradient(to bottom,#626262 0 2.2px,transparent 2.2px 4.2px)"></div>
<div class="a" style="left:751.90px;top:362.80px;width:1.2px;height:18.20px;background:repeating-linear-gradient(to bottom,#626262 0 2.2px,transparent 2.2px 4.2px)"></div>
<div class="a" style="left:772.50px;top:362.80px;width:1.2px;height:18.20px;background:repeating-linear-gradient(to bottom,#626262 0 2.2px,transparent 2.2px 4.2px)"></div>
<div class="a" style="left:793.20px;top:362.80px;width:1.2px;height:18.20px;background:repeating-linear-gradient(to bottom,#626262 0 2.2px,transparent 2.2px 4.2px)"></div>
<div class="a" style="left:405.90px;top:383.80px;width:1.2px;height:19.20px;background:repeating-linear-gradient(to bottom,#626262 0 2.2px,transparent 2.2px 4.2px)"></div>
<div class="a" style="left:426.10px;top:383.80px;width:1.2px;height:19.20px;background:repeating-linear-gradient(to bottom,#626262 0 2.2px,transparent 2.2px 4.2px)"></div>
<div class="a" style="left:446.20px;top:383.80px;width:1.2px;height:19.20px;background:repeating-linear-gradient(to bottom,#626262 0 2.2px,transparent 2.2px 4.2px)"></div>
<div class="a" style="left:467.10px;top:383.80px;width:1.2px;height:19.20px;background:repeating-linear-gradient(to bottom,#626262 0 2.2px,transparent 2.2px 4.2px)"></div>
<div class="a" style="left:487.90px;top:383.80px;width:1.2px;height:19.20px;background:repeating-linear-gradient(to bottom,#626262 0 2.2px,transparent 2.2px 4.2px)"></div>
<div class="a" style="left:508.05px;top:383.80px;width:1.2px;height:19.20px;background:repeating-linear-gradient(to bottom,#626262 0 2.2px,transparent 2.2px 4.2px)"></div>
<div class="a" style="left:528.50px;top:383.80px;width:1.2px;height:19.20px;background:repeating-linear-gradient(to bottom,#626262 0 2.2px,transparent 2.2px 4.2px)"></div>
<div class="a" style="left:547.90px;top:383.80px;width:1.2px;height:19.20px;background:repeating-linear-gradient(to bottom,#626262 0 2.2px,transparent 2.2px 4.2px)"></div>
<div class="a" style="left:568.20px;top:383.80px;width:1.2px;height:19.20px;background:repeating-linear-gradient(to bottom,#626262 0 2.2px,transparent 2.2px 4.2px)"></div>
<div class="a" style="left:588.50px;top:383.80px;width:1.2px;height:19.20px;background:repeating-linear-gradient(to bottom,#626262 0 2.2px,transparent 2.2px 4.2px)"></div>
<div class="a" style="left:609.30px;top:383.80px;width:1.2px;height:19.20px;background:repeating-linear-gradient(to bottom,#626262 0 2.2px,transparent 2.2px 4.2px)"></div>
<div class="a" style="left:630.00px;top:383.80px;width:1.2px;height:19.20px;background:repeating-linear-gradient(to bottom,#626262 0 2.2px,transparent 2.2px 4.2px)"></div>
<div class="a" style="left:650.25px;top:383.80px;width:1.2px;height:19.20px;background:repeating-linear-gradient(to bottom,#626262 0 2.2px,transparent 2.2px 4.2px)"></div>
<div class="a" style="left:670.70px;top:383.80px;width:1.2px;height:19.20px;background:repeating-linear-gradient(to bottom,#626262 0 2.2px,transparent 2.2px 4.2px)"></div>
<div class="a" style="left:689.50px;top:383.80px;width:1.2px;height:19.20px;background:repeating-linear-gradient(to bottom,#626262 0 2.2px,transparent 2.2px 4.2px)"></div>
<div class="a" style="left:709.90px;top:383.80px;width:1.2px;height:19.20px;background:repeating-linear-gradient(to bottom,#626262 0 2.2px,transparent 2.2px 4.2px)"></div>
<div class="a" style="left:730.80px;top:383.80px;width:1.2px;height:19.20px;background:repeating-linear-gradient(to bottom,#626262 0 2.2px,transparent 2.2px 4.2px)"></div>
<div class="a" style="left:751.90px;top:383.80px;width:1.2px;height:19.20px;background:repeating-linear-gradient(to bottom,#626262 0 2.2px,transparent 2.2px 4.2px)"></div>
<div class="a" style="left:772.50px;top:383.80px;width:1.2px;height:19.20px;background:repeating-linear-gradient(to bottom,#626262 0 2.2px,transparent 2.2px 4.2px)"></div>
<div class="a" style="left:793.20px;top:383.80px;width:1.2px;height:19.20px;background:repeating-linear-gradient(to bottom,#626262 0 2.2px,transparent 2.2px 4.2px)"></div>
<div class="a" style="left:405.90px;top:405.80px;width:1.2px;height:18.20px;background:repeating-linear-gradient(to bottom,#626262 0 2.2px,transparent 2.2px 4.2px)"></div>
<div class="a" style="left:426.10px;top:405.80px;width:1.2px;height:18.20px;background:repeating-linear-gradient(to bottom,#626262 0 2.2px,transparent 2.2px 4.2px)"></div>
<div class="a" style="left:446.20px;top:405.80px;width:1.2px;height:18.20px;background:repeating-linear-gradient(to bottom,#626262 0 2.2px,transparent 2.2px 4.2px)"></div>
<div class="a" style="left:467.10px;top:405.80px;width:1.2px;height:18.20px;background:repeating-linear-gradient(to bottom,#626262 0 2.2px,transparent 2.2px 4.2px)"></div>
<div class="a" style="left:487.90px;top:405.80px;width:1.2px;height:18.20px;background:repeating-linear-gradient(to bottom,#626262 0 2.2px,transparent 2.2px 4.2px)"></div>
<div class="a" style="left:508.05px;top:405.80px;width:1.2px;height:18.20px;background:repeating-linear-gradient(to bottom,#626262 0 2.2px,transparent 2.2px 4.2px)"></div>
<div class="a" style="left:528.50px;top:405.80px;width:1.2px;height:18.20px;background:repeating-linear-gradient(to bottom,#626262 0 2.2px,transparent 2.2px 4.2px)"></div>
<div class="a" style="left:547.90px;top:405.80px;width:1.2px;height:18.20px;background:repeating-linear-gradient(to bottom,#626262 0 2.2px,transparent 2.2px 4.2px)"></div>
<div class="a" style="left:568.20px;top:405.80px;width:1.2px;height:18.20px;background:repeating-linear-gradient(to bottom,#626262 0 2.2px,transparent 2.2px 4.2px)"></div>
<div class="a" style="left:588.50px;top:405.80px;width:1.2px;height:18.20px;background:repeating-linear-gradient(to bottom,#626262 0 2.2px,transparent 2.2px 4.2px)"></div>
<div class="a" style="left:609.30px;top:405.80px;width:1.2px;height:18.20px;background:repeating-linear-gradient(to bottom,#626262 0 2.2px,transparent 2.2px 4.2px)"></div>
<div class="a" style="left:630.00px;top:405.80px;width:1.2px;height:18.20px;background:repeating-linear-gradient(to bottom,#626262 0 2.2px,transparent 2.2px 4.2px)"></div>
<div class="a" style="left:650.25px;top:405.80px;width:1.2px;height:18.20px;background:repeating-linear-gradient(to bottom,#626262 0 2.2px,transparent 2.2px 4.2px)"></div>
<div class="a" style="left:670.70px;top:405.80px;width:1.2px;height:18.20px;background:repeating-linear-gradient(to bottom,#626262 0 2.2px,transparent 2.2px 4.2px)"></div>
<div class="a" style="left:689.50px;top:405.80px;width:1.2px;height:18.20px;background:repeating-linear-gradient(to bottom,#626262 0 2.2px,transparent 2.2px 4.2px)"></div>
<div class="a" style="left:709.90px;top:405.80px;width:1.2px;height:18.20px;background:repeating-linear-gradient(to bottom,#626262 0 2.2px,transparent 2.2px 4.2px)"></div>
<div class="a" style="left:730.80px;top:405.80px;width:1.2px;height:18.20px;background:repeating-linear-gradient(to bottom,#626262 0 2.2px,transparent 2.2px 4.2px)"></div>
<div class="a" style="left:751.90px;top:405.80px;width:1.2px;height:18.20px;background:repeating-linear-gradient(to bottom,#626262 0 2.2px,transparent 2.2px 4.2px)"></div>
<div class="a" style="left:772.50px;top:405.80px;width:1.2px;height:18.20px;background:repeating-linear-gradient(to bottom,#626262 0 2.2px,transparent 2.2px 4.2px)"></div>
<div class="a" style="left:793.20px;top:405.80px;width:1.2px;height:18.20px;background:repeating-linear-gradient(to bottom,#626262 0 2.2px,transparent 2.2px 4.2px)"></div>
<div class="a" style="left:0;top:80px;width:387.5px;height:3.6px;background:#d3d3d3"></div>
<div class="a" style="left:389.3px;top:80px;width:405.7px;height:3.6px;background:#d8332a"></div>
<div class="a" style="left:0;top:101px;width:387.5px;height:3.6px;background:#d3d3d3"></div>
<div class="a" style="left:389.3px;top:101px;width:405.7px;height:3.6px;background:#d8332a"></div>
<div class="a" style="left:0;top:123px;width:387.5px;height:3.6px;background:#d3d3d3"></div>
<div class="a" style="left:389.3px;top:123px;width:405.7px;height:3.6px;background:#d8332a"></div>
<div class="a" style="left:0;top:145px;width:387.5px;height:3.6px;background:#d3d3d3"></div>
<div class="a" style="left:389.3px;top:145px;width:405.7px;height:3.6px;background:#d8332a"></div>
<div class="a" style="left:0;top:166px;width:387.5px;height:3.6px;background:#d3d3d3"></div>
<div class="a" style="left:389.3px;top:166px;width:405.7px;height:3.6px;background:#d8332a"></div>
<div class="a" style="left:0;top:188px;width:387.5px;height:3.6px;background:#d3d3d3"></div>
<div class="a" style="left:389.3px;top:188px;width:405.7px;height:3.6px;background:#d8332a"></div>
<div class="a" style="left:0;top:209px;width:387.5px;height:3.6px;background:#d3d3d3"></div>
<div class="a" style="left:389.3px;top:209px;width:405.7px;height:3.6px;background:#d8332a"></div>
<div class="a" style="left:0;top:231px;width:387.5px;height:3.6px;background:#d3d3d3"></div>
<div class="a" style="left:389.3px;top:231px;width:405.7px;height:3.6px;background:#d8332a"></div>
<div class="a" style="left:0;top:252.4px;width:387.5px;height:3.6px;background:#d3d3d3"></div>
<div class="a" style="left:389.3px;top:252.4px;width:405.7px;height:3.6px;background:#d8332a"></div>
<div class="a" style="left:0;top:273.5px;width:387.5px;height:3.6px;background:#d3d3d3"></div>
<div class="a" style="left:389.3px;top:273.5px;width:405.7px;height:3.6px;background:#d8332a"></div>
<div class="a" style="left:0;top:295px;width:387.5px;height:3.6px;background:#d3d3d3"></div>
<div class="a" style="left:389.3px;top:295px;width:405.7px;height:3.6px;background:#d8332a"></div>
<div class="a" style="left:0;top:317px;width:387.5px;height:3.6px;background:#d3d3d3"></div>
<div class="a" style="left:389.3px;top:317px;width:405.7px;height:3.6px;background:#d8332a"></div>
<div class="a" style="left:0;top:338px;width:387.5px;height:3.6px;background:#d3d3d3"></div>
<div class="a" style="left:389.3px;top:338px;width:405.7px;height:3.6px;background:#d8332a"></div>
<div class="a" style="left:0;top:360px;width:387.5px;height:3.6px;background:#d3d3d3"></div>
<div class="a" style="left:389.3px;top:360px;width:405.7px;height:3.6px;background:#d8332a"></div>
<div class="a" style="left:0;top:381px;width:387.5px;height:3.6px;background:#d3d3d3"></div>
<div class="a" style="left:389.3px;top:381px;width:405.7px;height:3.6px;background:#d8332a"></div>
<div class="a" style="left:0;top:403px;width:387.5px;height:3.6px;background:#d3d3d3"></div>
<div class="a" style="left:389.3px;top:403px;width:405.7px;height:3.6px;background:#d8332a"></div>
<div class="a" style="left:0;top:424px;width:387.5px;height:3.6px;background:#d3d3d3"></div>
<div class="a" style="left:389.3px;top:424px;width:405.7px;height:3.6px;background:#d8332a"></div>
<div class="a" style="left:388.0px;top:80px;width:1.6px;height:348px;background:repeating-linear-gradient(to bottom,#f0922a 0 3.8px,transparent 3.8px 6.4px)"></div>
<div class="t" style="left:-86.00px;width:200px;text-align:center;top:87.34px;font-size:10.1px;line-height:13.13px;font-weight:400;color:#505153;transform:scaleX(0.973);transform-origin:50% 0;">1.</div>
<div class="t" style="left:29.00px;top:87.34px;font-size:10.1px;line-height:13.13px;font-weight:400;color:#505153;transform:scaleX(0.973);transform-origin:0 0;">Modernize / Reconfigure Existing Classrooms and Labs</div>
<div class="t" style="left:318.60px;top:86.14px;font-size:10.4px;line-height:13.52px;font-weight:400;color:#505153;transform:scaleX(0.96);transform-origin:0 0;">$</div>
<div class="t" style="left:-17.70px;width:400px;text-align:right;top:87.34px;font-size:10.1px;line-height:13.13px;font-weight:400;color:#505153;transform:scaleX(0.973);transform-origin:100% 0;">-</div>
<div class="t" style="left:683.90px;width:200px;text-align:center;top:86.84px;font-size:10.6px;line-height:13.78px;font-weight:700;color:#5a5b5d;">0</div>
<div class="t" style="left:-86.00px;width:200px;text-align:center;top:109.34px;font-size:10.1px;line-height:13.13px;font-weight:400;color:#505153;transform:scaleX(0.973);transform-origin:50% 0;">2.</div>
<div class="t" style="left:29.00px;top:109.34px;font-size:10.1px;line-height:13.13px;font-weight:400;color:#505153;transform:scaleX(0.973);transform-origin:0 0;">Existing Building Systems, Toilets &amp; Improved Energy Efficiency</div>
<div class="t" style="left:318.60px;top:108.14px;font-size:10.4px;line-height:13.52px;font-weight:400;color:#505153;transform:scaleX(0.96);transform-origin:0 0;">$</div>
<div class="t" style="left:-17.70px;width:400px;text-align:right;top:109.34px;font-size:10.1px;line-height:13.13px;font-weight:400;color:#505153;transform:scaleX(0.973);transform-origin:100% 0;">-</div>
<div class="t" style="left:683.90px;width:200px;text-align:center;top:108.84px;font-size:10.6px;line-height:13.78px;font-weight:700;color:#5a5b5d;">0</div>
<div class="t" style="left:-86.00px;width:200px;text-align:center;top:130.34px;font-size:10.1px;line-height:13.13px;font-weight:400;color:#5e5f61;transform:scaleX(0.973);transform-origin:50% 0;">3.</div>
<div class="t" style="left:29.00px;top:130.34px;font-size:10.1px;line-height:13.13px;font-weight:400;color:#5e5f61;transform:scaleX(0.973);transform-origin:0 0;">Site Utilities</div>
<div class="t" style="left:318.60px;top:129.14px;font-size:10.4px;line-height:13.52px;font-weight:400;color:#5e5f61;transform:scaleX(0.96);transform-origin:0 0;">$</div>
<div class="t" style="left:-17.70px;width:400px;text-align:right;top:130.34px;font-size:10.1px;line-height:13.13px;font-weight:400;color:#5e5f61;transform:scaleX(0.973);transform-origin:100% 0;">13,300</div>
<div class="a" style="left:391.00px;top:129.30px;width:13px;height:13px;border-radius:50%;background:#15886c"></div>
<div class="a" style="left:794.2px;top:125.5px;width:18.8px;height:20.30px;background:#5f5f61"></div>
<div class="t" style="left:703.40px;width:200px;text-align:center;top:129.05px;font-size:13px;line-height:16.9px;font-weight:700;color:#fff;">3</div>
<div class="t" style="left:-86.00px;width:200px;text-align:center;top:152.34px;font-size:10.1px;line-height:13.13px;font-weight:400;color:#505153;transform:scaleX(0.973);transform-origin:50% 0;">4.</div>
<div class="t" style="left:29.00px;top:152.34px;font-size:10.1px;line-height:13.13px;font-weight:400;color:#505153;transform:scaleX(0.973);transform-origin:0 0;">New Construction (Classrooms)</div>
<div class="t" style="left:318.60px;top:151.14px;font-size:10.4px;line-height:13.52px;font-weight:400;color:#505153;transform:scaleX(0.96);transform-origin:0 0;">$</div>
<div class="t" style="left:-17.70px;width:400px;text-align:right;top:152.34px;font-size:10.1px;line-height:13.13px;font-weight:400;color:#505153;transform:scaleX(0.973);transform-origin:100% 0;">-</div>
<div class="t" style="left:683.90px;width:200px;text-align:center;top:151.84px;font-size:10.6px;line-height:13.78px;font-weight:700;color:#5a5b5d;">0</div>
<div class="t" style="left:-86.00px;width:200px;text-align:center;top:173.34px;font-size:10.1px;line-height:13.13px;font-weight:400;color:#505153;transform:scaleX(0.973);transform-origin:50% 0;">5.</div>
<div class="t" style="left:29.00px;top:173.34px;font-size:10.1px;line-height:13.13px;font-weight:400;color:#505153;transform:scaleX(0.973);transform-origin:0 0;">Science, Arts, CTE &amp; Electives Programs</div>
<div class="t" style="left:318.60px;top:172.14px;font-size:10.4px;line-height:13.52px;font-weight:400;color:#505153;transform:scaleX(0.96);transform-origin:0 0;">$</div>
<div class="t" style="left:-17.70px;width:400px;text-align:right;top:173.34px;font-size:10.1px;line-height:13.13px;font-weight:400;color:#505153;transform:scaleX(0.973);transform-origin:100% 0;">&#8211;</div>
<div class="t" style="left:683.90px;width:200px;text-align:center;top:172.84px;font-size:10.6px;line-height:13.78px;font-weight:700;color:#5a5b5d;">0</div>
<div class="t" style="left:-86.00px;width:200px;text-align:center;top:195.34px;font-size:10.1px;line-height:13.13px;font-weight:400;color:#505153;transform:scaleX(0.973);transform-origin:50% 0;">6.</div>
<div class="t" style="left:29.00px;top:195.34px;font-size:10.1px;line-height:13.13px;font-weight:400;color:#505153;transform:scaleX(0.973);transform-origin:0 0;">Performing Arts Improvements</div>
<div class="t" style="left:318.60px;top:194.14px;font-size:10.4px;line-height:13.52px;font-weight:400;color:#505153;transform:scaleX(0.96);transform-origin:0 0;">$</div>
<div class="t" style="left:-17.70px;width:400px;text-align:right;top:195.34px;font-size:10.1px;line-height:13.13px;font-weight:400;color:#505153;transform:scaleX(0.973);transform-origin:100% 0;">-</div>
<div class="t" style="left:683.90px;width:200px;text-align:center;top:194.84px;font-size:10.6px;line-height:13.78px;font-weight:700;color:#5a5b5d;">0</div>
<div class="t" style="left:-86.00px;width:200px;text-align:center;top:216.34px;font-size:10.1px;line-height:13.13px;font-weight:400;color:#505153;transform:scaleX(0.973);transform-origin:50% 0;">7.</div>
<div class="t" style="left:29.00px;top:216.34px;font-size:10.1px;line-height:13.13px;font-weight:400;color:#505153;transform:scaleX(0.973);transform-origin:0 0;">MPR, Student Union &amp; Food Service Improvements</div>
<div class="t" style="left:318.60px;top:215.14px;font-size:10.4px;line-height:13.52px;font-weight:400;color:#505153;transform:scaleX(0.96);transform-origin:0 0;">$</div>
<div class="t" style="left:-17.70px;width:400px;text-align:right;top:216.34px;font-size:10.1px;line-height:13.13px;font-weight:400;color:#505153;transform:scaleX(0.973);transform-origin:100% 0;">-</div>
<div class="t" style="left:683.90px;width:200px;text-align:center;top:215.84px;font-size:10.6px;line-height:13.78px;font-weight:700;color:#5a5b5d;">0</div>
<div class="t" style="left:-86.00px;width:200px;text-align:center;top:238.34px;font-size:10.1px;line-height:13.13px;font-weight:400;color:#505153;transform:scaleX(0.973);transform-origin:50% 0;">8.</div>
<div class="t" style="left:29.00px;top:238.34px;font-size:10.1px;line-height:13.13px;font-weight:400;color:#505153;transform:scaleX(0.973);transform-origin:0 0;">Physical Education Improvements</div>
<div class="t" style="left:318.60px;top:237.14px;font-size:10.4px;line-height:13.52px;font-weight:400;color:#505153;transform:scaleX(0.96);transform-origin:0 0;">$</div>
<div class="t" style="left:-17.70px;width:400px;text-align:right;top:238.34px;font-size:10.1px;line-height:13.13px;font-weight:400;color:#505153;transform:scaleX(0.973);transform-origin:100% 0;">-</div>
<div class="t" style="left:683.90px;width:200px;text-align:center;top:237.84px;font-size:10.6px;line-height:13.78px;font-weight:700;color:#5a5b5d;">0</div>
<div class="t" style="left:-86.00px;width:200px;text-align:center;top:259.34px;font-size:10.1px;line-height:13.13px;font-weight:400;color:#5e5f61;transform:scaleX(0.973);transform-origin:50% 0;">9.</div>
<div class="t" style="left:29.00px;top:259.34px;font-size:10.1px;line-height:13.13px;font-weight:400;color:#5e5f61;transform:scaleX(0.973);transform-origin:0 0;">Administration &amp; Staff Support</div>
<div class="t" style="left:318.60px;top:258.14px;font-size:10.4px;line-height:13.52px;font-weight:400;color:#5e5f61;transform:scaleX(0.96);transform-origin:0 0;">$</div>
<div class="t" style="left:-17.70px;width:400px;text-align:right;top:259.34px;font-size:10.1px;line-height:13.13px;font-weight:400;color:#5e5f61;transform:scaleX(0.973);transform-origin:100% 0;">602,797</div>
<div class="t" style="left:683.90px;width:200px;text-align:center;top:258.84px;font-size:10.6px;line-height:13.78px;font-weight:700;color:#6e6f71;">2</div>
<div class="a" style="left:391.00px;top:258.25px;width:13px;height:13px;border-radius:50%;background:#15886c"></div>
<div class="a" style="left:410.10px;top:258.25px;width:13px;height:13px;border-radius:50%;background:#15886c"></div>
<div class="a" style="left:794.2px;top:254.9px;width:18.8px;height:19.40px;background:#5f5f61"></div>
<div class="t" style="left:703.40px;width:200px;text-align:center;top:258.05px;font-size:13px;line-height:16.9px;font-weight:700;color:#fff;">2</div>
<div class="t" style="left:-86.00px;width:200px;text-align:center;top:281.34px;font-size:10.1px;line-height:13.13px;font-weight:400;color:#505153;transform:scaleX(0.973);transform-origin:50% 0;">10.</div>
<div class="t" style="left:29.00px;top:281.34px;font-size:10.1px;line-height:13.13px;font-weight:400;color:#505153;transform:scaleX(0.973);transform-origin:0 0;">Library &amp; Student Support Services</div>
<div class="t" style="left:318.60px;top:280.14px;font-size:10.4px;line-height:13.52px;font-weight:400;color:#505153;transform:scaleX(0.96);transform-origin:0 0;">$</div>
<div class="t" style="left:-17.70px;width:400px;text-align:right;top:281.34px;font-size:10.1px;line-height:13.13px;font-weight:400;color:#505153;transform:scaleX(0.973);transform-origin:100% 0;">-</div>
<div class="t" style="left:683.90px;width:200px;text-align:center;top:280.84px;font-size:10.6px;line-height:13.78px;font-weight:700;color:#5a5b5d;">0</div>
<div class="t" style="left:-86.00px;width:200px;text-align:center;top:303.34px;font-size:10.1px;line-height:13.13px;font-weight:400;color:#505153;transform:scaleX(0.973);transform-origin:50% 0;">11.</div>
<div class="t" style="left:29.00px;top:303.34px;font-size:10.1px;line-height:13.13px;font-weight:400;color:#505153;transform:scaleX(0.973);transform-origin:0 0;">Safety &amp; Security</div>
<div class="t" style="left:318.60px;top:302.14px;font-size:10.4px;line-height:13.52px;font-weight:400;color:#505153;transform:scaleX(0.96);transform-origin:0 0;">$</div>
<div class="t" style="left:-17.70px;width:400px;text-align:right;top:303.34px;font-size:10.1px;line-height:13.13px;font-weight:400;color:#505153;transform:scaleX(0.973);transform-origin:100% 0;">-</div>
<div class="t" style="left:683.90px;width:200px;text-align:center;top:302.84px;font-size:10.6px;line-height:13.78px;font-weight:700;color:#5a5b5d;">0</div>
<div class="t" style="left:-86.00px;width:200px;text-align:center;top:324.34px;font-size:10.1px;line-height:13.13px;font-weight:400;color:#5e5f61;transform:scaleX(0.973);transform-origin:50% 0;">12.</div>
<div class="t" style="left:29.00px;top:324.34px;font-size:10.1px;line-height:13.13px;font-weight:400;color:#5e5f61;transform:scaleX(0.973);transform-origin:0 0;">Parking &amp; Drop-Off</div>
<div class="t" style="left:318.60px;top:323.14px;font-size:10.4px;line-height:13.52px;font-weight:400;color:#5e5f61;transform:scaleX(0.96);transform-origin:0 0;">$</div>
<div class="t" style="left:-17.70px;width:400px;text-align:right;top:324.34px;font-size:10.1px;line-height:13.13px;font-weight:400;color:#5e5f61;transform:scaleX(0.973);transform-origin:100% 0;">430,122</div>
<div class="t" style="left:683.90px;width:200px;text-align:center;top:323.84px;font-size:10.6px;line-height:13.78px;font-weight:700;color:#6e6f71;">3</div>
<div class="a" style="left:391.00px;top:322.80px;width:13px;height:13px;border-radius:50%;background:#15886c"></div>
<div class="a" style="left:410.10px;top:322.80px;width:13px;height:13px;border-radius:50%;background:#15886c"></div>
<div class="a" style="left:430.25px;top:322.80px;width:13px;height:13px;border-radius:50%;background:#15886c"></div>
<div class="a" style="left:794.2px;top:319.5px;width:18.8px;height:19.30px;background:#5f5f61"></div>
<div class="t" style="left:-86.00px;width:200px;text-align:center;top:346.34px;font-size:10.1px;line-height:13.13px;font-weight:400;color:#505153;transform:scaleX(0.973);transform-origin:50% 0;">13.</div>
<div class="t" style="left:29.00px;top:346.34px;font-size:10.1px;line-height:13.13px;font-weight:400;color:#505153;transform:scaleX(0.973);transform-origin:0 0;">Outdoor Learning Environments &amp; Quads</div>
<div class="t" style="left:318.60px;top:345.14px;font-size:10.4px;line-height:13.52px;font-weight:400;color:#505153;transform:scaleX(0.96);transform-origin:0 0;">$</div>
<div class="t" style="left:-17.70px;width:400px;text-align:right;top:346.34px;font-size:10.1px;line-height:13.13px;font-weight:400;color:#505153;transform:scaleX(0.973);transform-origin:100% 0;">-</div>
<div class="t" style="left:683.90px;width:200px;text-align:center;top:345.84px;font-size:10.6px;line-height:13.78px;font-weight:700;color:#5a5b5d;">0</div>
<div class="t" style="left:-86.00px;width:200px;text-align:center;top:367.34px;font-size:10.1px;line-height:13.13px;font-weight:400;color:#505153;transform:scaleX(0.973);transform-origin:50% 0;">14.</div>
<div class="t" style="left:29.00px;top:367.34px;font-size:10.1px;line-height:13.13px;font-weight:400;color:#505153;transform:scaleX(0.973);transform-origin:0 0;">Exterior Play Spaces, Playfields &amp; Hardcourts</div>
<div class="t" style="left:318.60px;top:366.14px;font-size:10.4px;line-height:13.52px;font-weight:400;color:#505153;transform:scaleX(0.96);transform-origin:0 0;">$</div>
<div class="t" style="left:-17.70px;width:400px;text-align:right;top:367.34px;font-size:10.1px;line-height:13.13px;font-weight:400;color:#505153;transform:scaleX(0.973);transform-origin:100% 0;">-</div>
<div class="t" style="left:683.90px;width:200px;text-align:center;top:366.84px;font-size:10.6px;line-height:13.78px;font-weight:700;color:#5a5b5d;">0</div>
<div class="t" style="left:-86.00px;width:200px;text-align:center;top:389.34px;font-size:10.1px;line-height:13.13px;font-weight:400;color:#505153;transform:scaleX(0.973);transform-origin:50% 0;">15.</div>
<div class="t" style="left:29.00px;top:389.34px;font-size:10.1px;line-height:13.13px;font-weight:400;color:#505153;transform:scaleX(0.973);transform-origin:0 0;">Next Generation Classroom Flexibility</div>
<div class="t" style="left:318.60px;top:388.14px;font-size:10.4px;line-height:13.52px;font-weight:400;color:#505153;transform:scaleX(0.96);transform-origin:0 0;">$</div>
<div class="t" style="left:-17.70px;width:400px;text-align:right;top:389.34px;font-size:10.1px;line-height:13.13px;font-weight:400;color:#505153;transform:scaleX(0.973);transform-origin:100% 0;">-</div>
<div class="t" style="left:683.90px;width:200px;text-align:center;top:388.84px;font-size:10.6px;line-height:13.78px;font-weight:700;color:#5a5b5d;">0</div>
<div class="t" style="left:-86.00px;width:200px;text-align:center;top:410.34px;font-size:10.1px;line-height:13.13px;font-weight:400;color:#505153;transform:scaleX(0.973);transform-origin:50% 0;">16.</div>
<div class="t" style="left:29.00px;top:410.34px;font-size:10.1px;line-height:13.13px;font-weight:400;color:#505153;transform:scaleX(0.973);transform-origin:0 0;">Technology Infrastructure</div>
<div class="t" style="left:318.60px;top:409.14px;font-size:10.4px;line-height:13.52px;font-weight:400;color:#505153;transform:scaleX(0.96);transform-origin:0 0;">$</div>
<div class="t" style="left:-17.70px;width:400px;text-align:right;top:410.34px;font-size:10.1px;line-height:13.13px;font-weight:400;color:#505153;transform:scaleX(0.973);transform-origin:100% 0;">-</div>
<div class="t" style="left:683.90px;width:200px;text-align:center;top:409.84px;font-size:10.6px;line-height:13.78px;font-weight:700;color:#5a5b5d;">0</div>
<div class="t" style="left:116.00px;top:431.74px;font-size:10.3px;line-height:13.39px;font-weight:700;color:#5e5f61;transform:scaleX(0.945);transform-origin:0 0;">Total Construction / Project Cost (2017$)</div>
<div class="t" style="left:318.60px;top:431.74px;font-size:10.3px;line-height:13.39px;font-weight:700;color:#5e5f61;transform:scaleX(0.945);transform-origin:0 0;">$</div>
<div class="t" style="left:-17.70px;width:400px;text-align:right;top:431.74px;font-size:10.3px;line-height:13.39px;font-weight:700;color:#5e5f61;transform:scaleX(0.945);transform-origin:100% 0;">1,046,219</div>
<svg class="a" style="left:0;top:0" width="815" height="446" viewBox="0 0 815 446"><path fill="#fff" d="M43.60 56.00V66.00H41.10V59.30Q39.65 60.10 38.20 60.20V58.60Q41.70 58.20 41.40 56.00Z"/><path fill="#6e6f71" d="M785.30 131.80V139.00H783.50V134.18Q782.75 134.75 782.00 134.82V133.67Q784.10 133.38 783.80 131.80Z"/><path fill="#fff" d="M805.70 324.90V334.90H803.10V328.20Q801.75 329.00 800.40 329.10V327.50Q803.70 327.10 803.40 324.90Z"/></svg>
</body></html>
